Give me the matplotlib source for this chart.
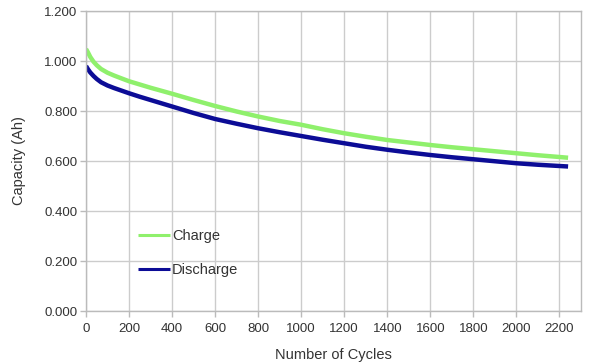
import matplotlib
matplotlib.use("Agg")
import matplotlib.pyplot as plt
from matplotlib.ticker import FormatStrFormatter

plt.rcParams['font.family'] = ['Liberation Sans', 'DejaVu Sans']

# values
cycles = [0, 10, 20, 35, 50, 70, 100, 130, 160, 200, 250, 300, 400, 500,
          600, 700, 800, 900, 1000, 1100, 1200, 1300, 1400, 1500, 1600,
          1700, 1800, 1900, 2000, 2100, 2200, 2240]
charge = [1.048, 1.033, 1.016, 0.997, 0.983, 0.968, 0.953, 0.942, 0.932,
          0.919, 0.906, 0.893, 0.869, 0.844, 0.820, 0.798, 0.778, 0.760,
          0.745, 0.727, 0.711, 0.697, 0.684, 0.674, 0.664, 0.655, 0.647,
          0.639, 0.631, 0.623, 0.616, 0.613]
discharge = [0.980, 0.966, 0.954, 0.940, 0.928, 0.915, 0.902, 0.892, 0.883,
             0.871, 0.857, 0.844, 0.818, 0.792, 0.768, 0.749, 0.731, 0.715,
             0.700, 0.685, 0.671, 0.657, 0.645, 0.634, 0.624, 0.615, 0.607,
             0.599, 0.591, 0.585, 0.580, 0.578]
x_ticks = list(range(0, 2201, 200))
y_ticks = [0.0, 0.2, 0.4, 0.6, 0.8, 1.0, 1.2]

fig = plt.figure(figsize=(6.08, 3.63), dpi=100)
ax = fig.add_axes([86 / 608, 52 / 363, 495 / 608, 300 / 363])

ax.plot(cycles, charge, color='#8ff06c', lw=3.2, label='Charge',
        solid_capstyle='butt')
ax.plot(cycles, discharge, color='#0c0c96', lw=3.2, label='Discharge',
        solid_capstyle='butt')

ax.set_xlim(0, 2300)
ax.set_ylim(0, 1.2)
ax.set_xticks(x_ticks)
ax.set_yticks(y_ticks)
ax.yaxis.set_major_formatter(FormatStrFormatter('%.3f'))
ax.grid(True, color='#cccccc', lw=1.0)
ax.set_axisbelow(True)
for s in ax.spines.values():
    s.set_color('#bbbbbb')
    s.set_linewidth(1.0)
ax.tick_params(length=4, width=1, color='#bbbbbb', labelsize=9.5,
               labelcolor='#333333', pad=2)
ax.tick_params(axis='x', pad=5)

ax.set_xlabel('Number of Cycles', fontsize=10.5, color='#333333', labelpad=9)
ax.set_ylabel('Capacity (Ah)', fontsize=10.5, color='#333333', labelpad=13)

leg = ax.legend(loc='upper left', bbox_to_anchor=(0.105, 0.272), frameon=False,
                fontsize=10.5, handlelength=2.2, handletextpad=0.15,
                labelspacing=1.35, borderpad=0, borderaxespad=0)
for line in leg.get_lines():
    line.set_linewidth(2.2)
for t in leg.get_texts():
    t.set_color('#333333')

fig.savefig('out.png', dpi=100)
